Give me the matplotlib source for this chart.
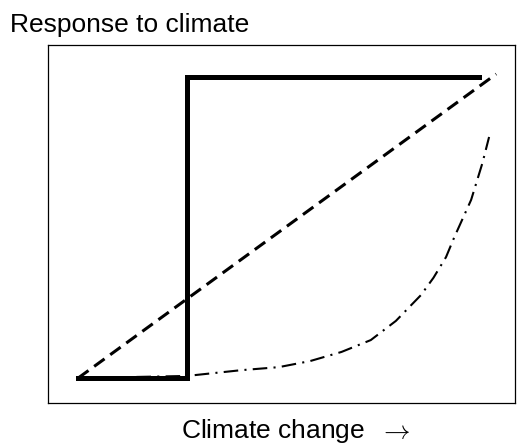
import matplotlib
matplotlib.use("Agg")
from matplotlib import pyplot as plt

plt.rcParams['font.family'] = ['Liberation Sans', 'DejaVu Sans']
plt.rcParams['mathtext.fontset'] = 'cm'

# threshold response (step)
step_x = [0, 0.26, 0.26, 0.96]
step_y = [0, 0, 0.99, 0.99]
# linear response
lin_x = [0, 1.0]
lin_y = [0, 1.0]
# accelerating response
curve_x = [0, 0.26, 0.39, 0.48, 0.555, 0.63, 0.70, 0.76, 0.82, 0.85, 0.88, 0.90, 0.94, 0.967, 0.983]
curve_y = [0, 0.007, 0.026, 0.036, 0.056, 0.086, 0.125, 0.188, 0.273, 0.33, 0.398, 0.464, 0.586, 0.707, 0.793]

fig = plt.figure(figsize=(5.28, 4.44), dpi=100)
ax = fig.add_axes([0.0909, 0.0923, 0.8845, 0.806])

ax.plot(curve_x, curve_y, color='black', lw=1.5, linestyle=(0, (7, 3, 1, 3)))
ax.plot(lin_x, lin_y, color='black', lw=2.2, linestyle=(0, (4.2, 2.3)))
ax.plot(step_x, step_y, color='black', lw=3.6, solid_joinstyle='miter')

ax.set_xlim(-0.072, 1.045)
ax.set_ylim(-0.082, 1.095)
ax.set_xticks([])
ax.set_yticks([])
for s in ax.spines.values():
    s.set_linewidth(0.9)

fig.text(181 / 528, 6 / 444, r'Climate change  $\rightarrow$', fontsize=19, va='baseline', ha='left')
fig.text(10 / 528, 1 - 32 / 444, 'Response to climate', fontsize=19, va='baseline', ha='left')

fig.savefig('out.png', dpi=100)
